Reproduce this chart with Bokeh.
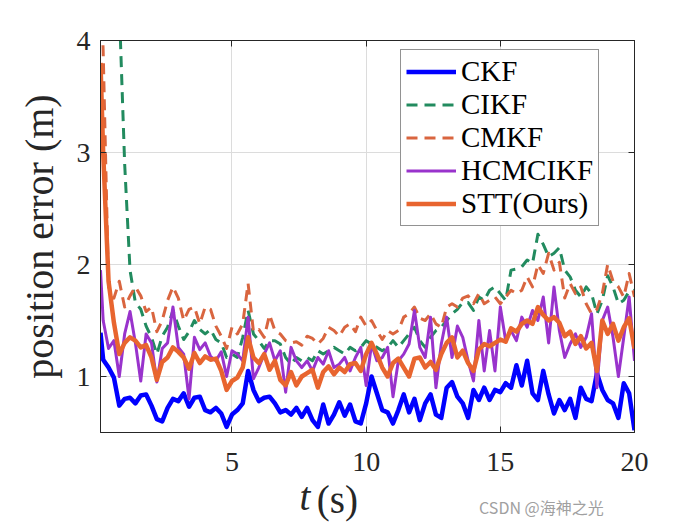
from bokeh.plotting import figure
from bokeh.models import Range1d, FixedTicker, LinearAxis, Legend, LegendItem
from bokeh.embed import file_html
from bokeh.resources import INLINE

# time samples (s)
t = [0.1] + [round(0.2 * k, 1) for k in range(1, 101)]

ckf = [1.39, 1.15, 1.08, 0.99, 0.74, 0.80, 0.81, 0.76, 0.83, 0.84,
       0.74, 0.62, 0.60, 0.72, 0.80, 0.78, 0.85, 0.73, 0.81, 0.82,
       0.70, 0.68, 0.72, 0.67, 0.55, 0.66, 0.70, 0.76, 1.05, 0.88,
       0.78, 0.81, 0.82, 0.76, 0.68, 0.70, 0.66, 0.72, 0.64, 0.72,
       0.61, 0.55, 0.75, 0.58, 0.66, 0.77, 0.65, 0.75, 0.60, 0.58,
       0.76, 1.00, 0.85, 0.70, 0.68, 0.58, 0.70, 0.84, 0.68, 0.80,
       0.61, 0.76, 0.84, 0.66, 0.63, 0.90, 0.95, 0.82, 0.76, 0.63,
       0.88, 0.79, 0.90, 0.79, 0.88, 0.86, 0.94, 0.90, 1.10, 0.92,
       1.14, 0.85, 0.79, 1.05, 0.84, 0.67, 0.79, 0.70, 0.80, 0.63,
       0.90, 0.80, 0.78, 1.03, 0.88, 0.79, 0.76, 0.63, 0.94, 0.85,
       0.52]

cikf = [9.0, 8.0, 6.5, 5.2, 4.3, 2.9, 1.95, 1.66, 1.60, 1.45,
        1.35, 1.20, 1.36, 1.44, 1.59, 1.45, 1.33, 1.40, 1.50, 1.42,
        1.38, 1.42, 1.33, 1.30, 1.17, 1.20, 1.17, 1.35, 1.59, 1.38,
        1.32, 1.25, 1.32, 1.32, 1.29, 1.17, 1.11, 1.17, 1.14, 1.17,
        1.14, 1.23, 1.20, 1.23, 1.26, 1.23, 1.20, 1.26, 1.23, 1.26,
        1.32, 1.29, 1.26, 1.23, 1.26, 1.32, 1.26, 1.32, 1.38, 1.44,
        1.32, 1.26, 1.35, 1.41, 1.44, 1.50, 1.56, 1.60, 1.66, 1.66,
        1.59, 1.71, 1.68, 1.77, 1.80, 1.74, 1.68, 1.95, 1.96, 1.98,
        2.04, 2.01, 2.27, 2.18, 2.07, 2.10, 2.15, 1.95, 1.89, 1.77,
        1.71, 1.80, 1.74, 1.56, 1.68, 1.90, 1.80, 1.65, 1.68, 1.76,
        1.77]

cmkf = [4.6, 3.9, 1.80, 1.70, 1.85, 1.62, 1.72, 1.80, 1.72, 1.58,
        1.62, 1.40, 1.50, 1.68, 1.80, 1.70, 1.50, 1.60, 1.62, 1.47,
        1.62, 1.60, 1.45, 1.36, 1.25, 1.44, 1.38, 1.47, 1.83, 1.40,
        1.42, 1.35, 1.55, 1.41, 1.38, 1.32, 1.30, 1.31, 1.28, 1.36,
        1.34, 1.29, 1.34, 1.44, 1.41, 1.36, 1.44, 1.47, 1.40, 1.53,
        1.45, 1.50, 1.41, 1.33, 1.41, 1.38, 1.41, 1.53, 1.56, 1.62,
        1.52, 1.50, 1.56, 1.47, 1.44, 1.62, 1.65, 1.62, 1.70, 1.72,
        1.65, 1.74, 1.65, 1.68, 1.71, 1.65, 1.71, 1.77, 1.74, 1.77,
        1.89, 1.80, 2.00, 1.92, 2.10, 1.95, 2.02, 1.70, 1.83, 1.74,
        1.80, 1.65, 1.56, 1.60, 1.74, 2.00, 1.85, 1.80, 1.71, 1.92,
        1.71]

hcmcikf = [1.95, 1.50, 1.25, 1.32, 1.00, 1.38, 1.58, 1.30, 0.96, 1.38,
           1.30, 0.95, 1.25, 1.30, 1.62, 1.26, 1.20, 0.80, 1.35, 1.24,
           1.30, 1.18, 1.14, 1.22, 1.00, 1.23, 1.20, 1.14, 1.53, 0.98,
           1.08, 1.20, 1.30, 1.14, 1.23, 0.86, 1.26, 1.14, 1.08, 1.14,
           1.05, 1.17, 1.11, 1.23, 1.08, 1.11, 1.17, 1.05, 1.17, 1.26,
           0.92, 1.29, 1.14, 1.17, 1.26, 0.82, 1.14, 1.20, 1.29, 1.59,
           1.26, 1.17, 1.53, 0.90, 1.29, 1.53, 1.17, 1.45, 1.35, 1.14,
           0.96, 1.50, 1.05, 1.41, 1.05, 1.62, 1.32, 1.41, 1.32, 1.53,
           1.44, 1.59, 1.50, 1.71, 1.30, 1.80, 1.41, 1.17, 1.29, 1.38,
           1.26, 1.35, 1.56, 0.90, 1.50, 1.62, 1.35, 1.00, 1.35, 1.71,
           1.14]

stt = [3.80, 3.00, 1.85, 1.48, 1.20, 1.30, 1.35, 1.32, 1.26, 1.28,
       1.17, 0.97, 1.13, 1.17, 1.26, 1.22, 1.17, 1.07, 1.21, 1.12,
       1.18, 1.15, 1.16, 1.05, 0.88, 0.96, 0.99, 1.08, 1.35, 1.17,
       1.12, 1.20, 1.06, 1.14, 0.97, 0.92, 1.04, 0.92, 1.00, 1.03,
       1.06, 0.90, 1.04, 1.09, 1.02, 1.08, 1.04, 1.11, 1.12, 1.05,
       1.20, 1.30, 1.20, 1.08, 1.00, 1.12, 1.16, 1.08, 1.00, 1.16,
       1.17, 1.08, 1.13, 1.06, 1.20, 1.30, 1.35, 1.17, 1.23, 1.12,
       1.05, 1.24, 1.29, 1.27, 1.30, 1.33, 1.31, 1.43, 1.40, 1.47,
       1.50, 1.47, 1.62, 1.55, 1.50, 1.53, 1.48, 1.36, 1.40, 1.29,
       1.36, 1.25, 1.30, 1.05, 1.50, 1.38, 1.47, 1.32, 1.44, 1.52,
       1.25]

names = ["CKF", "CIKF", "CMKF", "HCMCIKF", "STT(Ours)"]
x_ticks = [5, 10, 15, 20]
y_ticks = [1, 2, 3, 4]
x_label_parts = ["t", "(s)"]
watermark = "CSDN @海神之光"

SERIF = "Liberation Serif"
AX = "#262626"

p = figure(frame_width=534, frame_height=392, output_backend="svg", toolbar_location=None,
           x_range=Range1d(0.1, 20), y_range=Range1d(0.5, 4),
           min_border_left=100, min_border_top=40, min_border_right=52,
           min_border_bottom=0)
p.background_fill_color = "white"
p.border_fill_color = "white"
p.outline_line_color = AX
p.outline_line_width = 1

styles = [
    dict(color="#0000FF", line_width=4.5, line_dash="solid"),
    dict(color="#228B5F", line_width=3, line_dash="11 7"),
    dict(color="#D9653F", line_width=3, line_dash="11 7"),
    dict(color="#9933CC", line_width=3, line_dash="solid"),
    dict(color="#E8652F", line_width=4.5, line_dash="solid"),
]
series = [ckf, cikf, cmkf, hcmcikf, stt]
renderers = []
for ys, st in zip(series, styles):
    r = p.line(t, ys, line_color=st["color"], line_width=st["line_width"],
               line_dash=st["line_dash"], line_join="round")
    renderers.append(r)


def plain(ax):
    ax.major_tick_in = 6
    ax.major_tick_out = 0
    ax.minor_tick_in = 0
    ax.minor_tick_out = 0
    ax.minor_tick_line_color = None
    ax.axis_line_color = AX
    ax.major_tick_line_color = AX


# main axes
p.xaxis.ticker = FixedTicker(ticks=x_ticks)
p.yaxis.ticker = FixedTicker(ticks=y_ticks)
for ax in [p.xaxis[0], p.yaxis[0]]:
    plain(ax)
    ax.major_label_text_font = SERIF
    ax.major_label_text_font_size = "28px"
    ax.major_label_text_color = AX
p.xaxis[0].major_label_standoff = 20
p.yaxis[0].major_label_standoff = 10
p.yaxis[0].axis_label = "position error (m)"
p.yaxis[0].axis_label_text_font = SERIF
p.yaxis[0].axis_label_text_font_size = "40px"
p.yaxis[0].axis_label_text_font_style = "normal"
p.yaxis[0].axis_label_text_color = AX
p.yaxis[0].axis_label_standoff = 12

# box ticks on top and right (MATLAB style)
top_ax = LinearAxis(ticker=FixedTicker(ticks=x_ticks),
                    major_label_overrides={v: "" for v in x_ticks})
right_ax = LinearAxis(ticker=FixedTicker(ticks=y_ticks),
                      major_label_overrides={v: "" for v in y_ticks})
for ax in [top_ax, right_ax]:
    plain(ax)
    ax.major_label_text_font_size = "1px"
p.add_layout(top_ax, "above")
p.add_layout(right_ax, "right")


# x-axis title "t (s)" (italic t) and the watermark, set as label-only axes below
def label_axis(pos, text, font, size, style, color, standoff):
    ax = LinearAxis(ticker=FixedTicker(ticks=[pos]), major_label_overrides={pos: text})
    ax.axis_line_color = None
    ax.major_tick_line_color = None
    ax.minor_tick_line_color = None
    ax.major_tick_in = 0
    ax.major_tick_out = 0
    ax.minor_tick_in = 0
    ax.minor_tick_out = 0
    ax.major_label_text_font = font
    ax.major_label_text_font_size = size
    ax.major_label_text_font_style = style
    ax.major_label_text_color = color
    ax.major_label_standoff = standoff
    p.add_layout(ax, "below")
    return ax


label_axis(7.72, x_label_parts[0], SERIF, "39px", "italic", AX, 1)
label_axis(8.93, x_label_parts[1], SERIF, "39px", "normal", AX, -43)
label_axis(16.53, watermark, "Noto Sans CJK SC", "16px", "normal", "#A0A0A0", -29)

p.xgrid.ticker = FixedTicker(ticks=x_ticks)
p.ygrid.ticker = FixedTicker(ticks=y_ticks)
p.grid.grid_line_color = "#DCDCDC"
p.grid.grid_line_width = 1

# legend
legend = Legend(items=[LegendItem(label=n, renderers=[r]) for n, r in zip(names, renderers)],
                location=(300, 206))
legend.label_text_font = SERIF
legend.label_text_font_size = "29px"
legend.label_text_color = "black"
legend.glyph_width = 50
legend.glyph_height = 33
legend.label_height = 33
legend.label_standoff = 5
legend.padding = 5
legend.spacing = 0
legend.margin = 0
legend.border_line_color = AX
legend.border_line_width = 1
legend.background_fill_color = "white"
legend.background_fill_alpha = 1
p.add_layout(legend)

open("out.html", "w").write(file_html(p, INLINE))
